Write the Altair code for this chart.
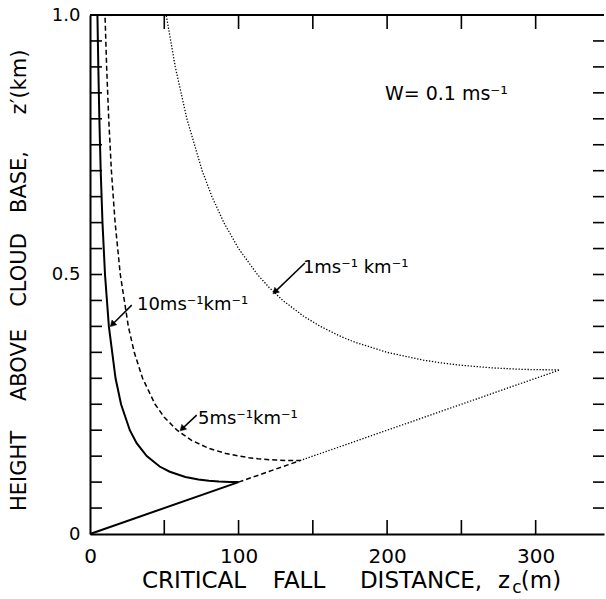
import altair as alt
import pandas as pd

# ---- data ----
# 10 m/s/km curve (solid): along z_c = z' from origin, then up the curve
solid_x = [0, 100, 93.9, 90.5, 86.8, 80.0, 73.0, 64.2, 53.7, 46.9, 38.2, 31.4, 26.8, 20.9, 17.2, 12.7, 10.1, 8.4, 7.2, 6.3, 5.6, 5.0]
solid_y = [0, 0.1, 0.1002, 0.1005, 0.101, 0.1025, 0.105, 0.11, 0.12, 0.13, 0.15, 0.175, 0.2, 0.25, 0.3, 0.4, 0.5, 0.6, 0.7, 0.8, 0.9, 1.0]
# 5 m/s/km curve (dashed)
dashed_x = [100, 141.4, 132.8, 125.0, 121.8, 113.0, 106.9, 91.6, 80.0, 68.6, 58.6, 50.0, 43.8, 35.4, 29.8, 25.8, 20.4, 16.9, 14.4, 12.6, 11.2, 10.1]
dashed_y = [0.1, 0.1414, 0.1417, 0.1425, 0.143, 0.145, 0.147, 0.155, 0.165, 0.18, 0.2, 0.225, 0.25, 0.3, 0.35, 0.4, 0.5, 0.6, 0.7, 0.8, 0.9, 1.0]
# 1 m/s/km curve (dotted)
dotted_x = [141.4, 316.2, 301.3, 294.9, 289.1, 271.0, 250.0, 235.7, 224.4, 200.0, 177.9, 169.3, 155.1, 143.6, 129.8, 120.6, 112.7, 100.0, 90.1, 82.1, 75.5, 65.2, 57.4, 51.3]
dotted_y = [0.1414, 0.3162, 0.3166, 0.317, 0.3175, 0.32, 0.325, 0.33, 0.335, 0.35, 0.37, 0.38, 0.4, 0.42, 0.45, 0.475, 0.5, 0.55, 0.6, 0.65, 0.7, 0.8, 0.9, 1.0]

xlabel_vals = [0, 100, 200, 300]
ylabel_vals = [0, 0.5, 1.0]
xtick_vals = [50, 100, 150, 200, 250, 300]
ytick_vals = [0.05, 0.1, 0.15, 0.2, 0.25, 0.3, 0.35, 0.4, 0.45, 0.5,
              0.55, 0.6, 0.65, 0.7, 0.75, 0.8, 0.85, 0.9, 0.95]

curve_labels = ["10ms⁻¹km⁻¹", "5ms⁻¹km⁻¹", "1ms⁻¹ km⁻¹"]
curve_label_x = [31.6, 72.7, 143.3]
curve_label_y = [0.432, 0.212, 0.503]
arrow_x0 = [28.1, 71.8, 144.7]
arrow_y0 = [0.441, 0.229, 0.522]
arrow_x1 = [15.5, 62.5, 125.0]
arrow_y1 = [0.405, 0.204, 0.468]
arrow_angle = [224, 225, 226]

w_label = ["W= 0.1 ms⁻¹"]
w_label_x = [198.5]
w_label_y = [0.836]

FONT = "DejaVu Sans"
W, H = 514, 519

xscale = alt.Scale(domain=[0, 346], nice=False, zero=False)
yscale = alt.Scale(domain=[0, 1], nice=False, zero=False)
xaxis = alt.Axis(values=xlabel_vals, ticks=False, grid=False, domain=True,
                 domainColor="black", domainWidth=2, labelFont=FONT, labelFontSize=20,
                 labelColor="black", labelPadding=12, labelFlush=False, title=None)
yaxis = alt.Axis(values=ylabel_vals, ticks=False, grid=False, domain=True,
                 domainColor="black", domainWidth=2, labelFont=FONT, labelFontSize=18,
                 labelColor="black", labelPadding=10, labelFlush=False, title=None,
                 labelExpr="datum.value == 0 ? '0' : format(datum.value, '.1f')")


def X(f):
    return alt.X(f, type="quantitative", scale=xscale, axis=xaxis)


def Y(f):
    return alt.Y(f, type="quantitative", scale=yscale, axis=yaxis)


def path_df(xs, ys):
    return pd.DataFrame({"x": xs, "y": ys, "o": list(range(len(xs)))})


solid = alt.Chart(path_df(solid_x, solid_y)).mark_line(
    color="black", strokeWidth=2, interpolate="linear").encode(x=X("x"), y=Y("y"), order="o:Q")
dashed = alt.Chart(path_df(dashed_x, dashed_y)).mark_line(
    color="black", strokeWidth=1.5, strokeDash=[5, 3], interpolate="linear").encode(x=X("x"), y=Y("y"), order="o:Q")
dotted = alt.Chart(path_df(dotted_x, dotted_y)).mark_line(
    color="black", strokeWidth=1.3, strokeDash=[1.3, 1.7], interpolate="linear").encode(x=X("x"), y=Y("y"), order="o:Q")

ydf = pd.DataFrame({"y": ytick_vals})
xdf = pd.DataFrame({"x": xtick_vals})
left_ticks = alt.Chart(ydf).mark_rule(color="black", strokeWidth=1.6).encode(
    y=Y("y"), x=alt.value(0), x2=alt.value(12))
right_ticks = alt.Chart(ydf).mark_rule(color="black", strokeWidth=1.6).encode(
    y=Y("y"), x=alt.value(W - 11), x2=alt.value(W))
top_ticks = alt.Chart(xdf).mark_rule(color="black", strokeWidth=1.6).encode(
    x=X("x"), y=alt.value(0), y2=alt.value(14))
bottom_ticks = alt.Chart(xdf).mark_rule(color="black", strokeWidth=1.6).encode(
    x=X("x"), y=alt.value(H - 14), y2=alt.value(H))
top_border = alt.Chart(pd.DataFrame({"a": [0]})).mark_rule(color="black", strokeWidth=2).encode(
    x=alt.value(0), x2=alt.value(W), y=alt.value(0))

adf = pd.DataFrame({"x0": arrow_x0, "y0": arrow_y0, "x1": arrow_x1, "y1": arrow_y1,
                    "ang": arrow_angle})
arrow_lines = alt.Chart(adf).mark_rule(color="black", strokeWidth=1.5).encode(
    x=X("x0"), y=Y("y0"), x2="x1", y2="y1")
arrow_heads = alt.Chart(adf).mark_point(
    shape="triangle", filled=True, fill="black", stroke="black", strokeWidth=0.5,
    opacity=1, size=45).encode(
    x=X("x1"), y=Y("y1"), angle=alt.Angle("ang:Q", scale=None))

ldf = pd.DataFrame({"t": curve_labels, "x": curve_label_x, "y": curve_label_y})
curve_text = alt.Chart(ldf).mark_text(
    font=FONT, fontSize=18, align="left", baseline="alphabetic", color="black").encode(
    x=X("x"), y=Y("y"), text="t:N")

wdf = pd.DataFrame({"t": w_label, "x": w_label_x, "y": w_label_y})
w_text = alt.Chart(wdf).mark_text(
    font=FONT, fontSize=19, align="left", baseline="alphabetic", color="black").encode(
    x=X("x"), y=Y("y"), text="t:N")

# axis titles (letter-spaced look: word by word)
xt_words = ["CRITICAL", "FALL", "DISTANCE,", "z", "(m)"]
xt_pos = [104, 209, 331, 414, 451]
xt_df = pd.DataFrame({"t": xt_words, "px": xt_pos})
x_title = alt.Chart(xt_df).mark_text(
    font=FONT, fontSize=23, align="center", baseline="alphabetic", color="black").encode(
    x=alt.X("px:Q", scale=None), y=alt.value(573), text="t:N")
x_sub = alt.Chart(pd.DataFrame({"t": ["c"]})).mark_text(
    font=FONT, fontSize=17, align="center", baseline="alphabetic", color="black").encode(
    x=alt.value(427), y=alt.value(578), text="t:N")

yt_words = ["HEIGHT", "ABOVE", "CLOUD", "BASE,", "z′(km)"]
yt_pos = [456, 350, 255, 167, 67]
yt_df = pd.DataFrame({"t": yt_words, "py": yt_pos})
y_title = alt.Chart(yt_df).mark_text(
    font=FONT, fontSize=21, align="center", baseline="alphabetic", color="black", angle=270).encode(
    y=alt.Y("py:Q", scale=None), x=alt.value(-64), text="t:N")

chart = alt.layer(
    solid, dashed, dotted, left_ticks, right_ticks, top_ticks, bottom_ticks, top_border,
    arrow_lines, arrow_heads, curve_text, w_text, x_title, x_sub, y_title
).properties(
    width=W, height=H,
    padding={"left": 90, "top": 15, "right": 2, "bottom": 65},
    autosize=alt.AutoSizeParams(type="none"),
    background="white",
).configure_view(stroke=None)

chart.save("out.html", embed_options={"renderer": "svg", "actions": False})
